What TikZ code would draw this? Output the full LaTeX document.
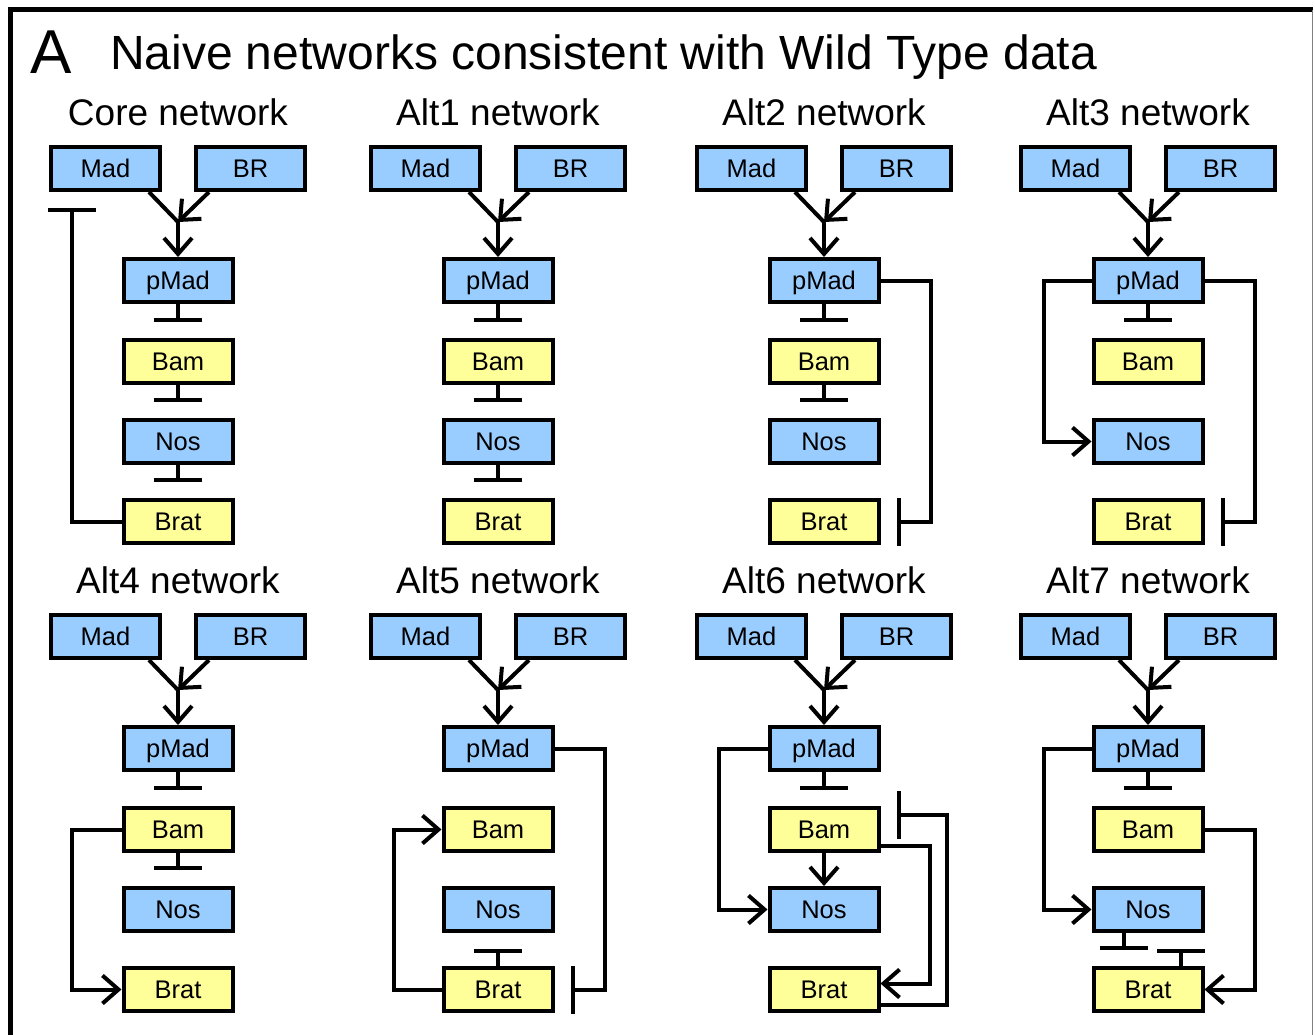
\documentclass[tikz,border=0pt]{standalone}
\usepackage{fontspec}
\setmainfont{Liberation Sans}
\usetikzlibrary{arrows.meta,calc}
\definecolor{boxblue}{RGB}{153,204,255}
\definecolor{boxyellow}{RGB}{255,255,153}
\newcommand\mknet[4]{%
  \node[bluebox] (#1Mad) at (#2-72.5,#3+168.5) {Mad};
  \node[bluebox] (#1BR) at (#2+72.5,#3+168.5) {BR};
  \node[bluebox] (#1pMad) at (#2,#3+280.5) {pMad};
  \node[yelbox] (#1Bam) at (#2,#3+361.5) {Bam};
  \node[bluebox] (#1Nos) at (#2,#3+441.5) {Nos};
  \node[yelbox] (#1Brat) at (#2,#3+521.5) {Brat};
  \node[ttl] (#1T) at (#2,#3+125) {#4};
  \coordinate (#1J) at (#2,#3+222);
  \draw ($(#1Mad.south east)+(-13,0)$) -- (#1J);
  \draw[act] ($(#1BR.south west)+(15,0)$) -- (#1J);
  \draw[act] (#1J) -- (#1pMad);
}
\begin{document}
\begin{tikzpicture}[x=1pt,y=-1pt,line width=4pt,
  box/.style={draw,minimum width=109pt,minimum height=43pt,inner sep=0pt,
    text height=18pt,text depth=0pt,font=\fontsize{25.5}{30}\selectfont},
  bluebox/.style={box,fill=boxblue},
  yelbox/.style={box,fill=boxyellow},
  ttl/.style={anchor=base,inner sep=0pt,font=\fontsize{37}{40}\selectfont},
  act/.style={-{Straight Barb[length=16pt,width=28pt]}},
  inh/.style={-{Bar[width=48pt]},shorten >=16pt}]
\useasboundingbox (0,0) rectangle (1315,1034);
% frame
\draw[line width=5pt] (10,1040) -- (10,9.5) -- (1313,9.5);
\draw[line width=1pt,gray] (1312.5,9.5) -- (1312.5,1040);
% headings
\node[anchor=base west,inner sep=0pt,font=\fontsize{62}{66}\selectfont] (lblA) at (28,73) {A};
\node[anchor=base west,inner sep=0pt,font=\fontsize{48}{52}\selectfont] (title) at (108,69) {Naive networks consistent with Wild Type data};
% networks
\mknet{c}{178}{0}{Core network}
\mknet{a}{498}{0}{Alt1 network}
\mknet{b}{824}{0}{Alt2 network}
\mknet{d}{1148}{0}{Alt3 network}
\mknet{e}{178}{468}{Alt4 network}
\mknet{f}{498}{468}{Alt5 network}
\mknet{g}{824}{468}{Alt6 network}
\mknet{h}{1148}{468}{Alt7 network}
% Core
\draw[inh] (cpMad) -- (cBam);
\draw[inh] (cBam) -- (cNos);
\draw[inh] (cNos) -- (cBrat);
\draw[inh] (cBrat.west) -| ($(cMad.south west)+(23,0)$);
% Alt1
\draw[inh] (apMad) -- (aBam);
\draw[inh] (aBam) -- (aNos);
\draw[inh] (aNos) -- (aBrat);
% Alt2
\draw[inh] (bpMad) -- (bBam);
\draw[inh] (bBam) -- (bNos);
\draw[inh] (bpMad.east) -- ++(50,0) |- (bBrat.east);
% Alt3
\draw[inh] (dpMad) -- (dBam);
\draw[act] (dpMad.west) -- ++(-48,0) |- (dNos.west);
\draw[inh] (dpMad.east) -- ++(50,0) |- (dBrat.east);
% Alt4
\draw[inh] (epMad) -- (eBam);
\draw[inh] (eBam) -- (eNos);
\draw[act] (eBam.west) -- ++(-50,0) |- (eBrat.west);
% Alt5
\draw[inh] (fpMad.east) -- ++(50,0) |- (fBrat.east);
\draw[act] (fBrat.west) -- ++(-48,0) |- (fBam.west);
\draw[inh] (fBrat) -- (fNos);
% Alt6
\draw[inh] (gpMad) -- (gBam);
\draw[act] (gBam) -- (gNos);
\draw[act] (gpMad.west) -- ++(-49,0) |- (gNos.west);
\draw[act] ($(gBam.east)+(0,16)$) -- ++(49,0) |- ($(gBrat.east)+(0,-6)$);
\draw[inh] ($(gBrat.east)+(0,15)$) -- ++(66,0) |- ($(gBam.east)+(0,-15)$);
% Alt7
\draw[inh] (hpMad) -- (hBam);
\draw[act] (hpMad.west) -- ++(-48,0) |- (hNos.west);
\draw[act] (hBam.east) -- ++(50,0) |- (hBrat.east);
\draw[inh] ($(hNos.south)+(-24,0)$) -- ($(hBrat.north)+(-24,0)$);
\draw[inh] ($(hBrat.north)+(33,0)$) -- ($(hNos.south)+(33,0)$);
\end{tikzpicture}
\end{document}
